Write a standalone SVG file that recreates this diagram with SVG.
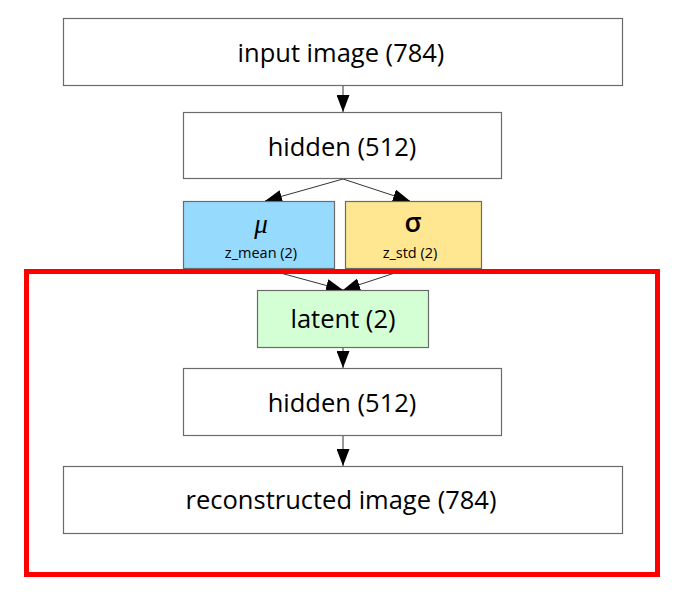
<svg xmlns="http://www.w3.org/2000/svg" width="687" height="600" viewBox="0 0 687 600">
<defs>
<style>
.box{stroke:#6b6b6b;stroke-width:1.2}
.t{font-family:"Open Sans","Liberation Sans",sans-serif;font-size:25.5px;fill:#000;text-anchor:middle}
.s{font-family:"Open Sans","Liberation Sans",sans-serif;font-size:14.5px;fill:#000;text-anchor:middle}
.c{stroke:#333;stroke-width:1;fill:none;marker-end:url(#ah)}
</style>
<marker id="ah" viewBox="0 0 17 13" refX="17" refY="6.5" markerWidth="17" markerHeight="13" markerUnits="userSpaceOnUse" orient="auto">
<path d="M0,0 L17,6.5 L0,13 Z" fill="#000"/>
</marker>
</defs>
<rect width="687" height="600" fill="#fff"/>
<g id="connectors">
<line class="c" x1="343" y1="85" x2="343" y2="112"/>
<line class="c" x1="343" y1="179" x2="265" y2="201"/>
<line class="c" x1="343" y1="179" x2="410" y2="201"/>
<line class="c" x1="262" y1="268" x2="343" y2="290"/>
<line class="c" x1="410" y1="268" x2="343" y2="290"/>
<line class="c" x1="343" y1="347" x2="343" y2="368"/>
<line class="c" x1="343" y1="435" x2="343" y2="466"/>
</g>
<g id="input">
<rect class="box" x="63.5" y="18.5" width="559" height="67" fill="#fff"/>
<text class="t" x="341" y="62">input image (784)</text>
</g>
<g id="hidden1">
<rect class="box" x="183.5" y="112.5" width="318" height="66" fill="#fff"/>
<text class="t" x="342" y="156">hidden (512)</text>
</g>
<g id="mu">
<rect class="box" x="183.5" y="201.5" width="151" height="67" fill="#96dafe"/>
<text x="261" y="233" font-family="'Liberation Serif',serif" font-style="italic" font-size="27" text-anchor="middle">μ</text>
<text class="s" x="261" y="258">z_mean (2)</text>
</g>
<g id="sigma">
<rect class="box" x="345.5" y="201.5" width="136" height="67" fill="#ffe791"/>
<text x="413" y="232" font-family="'Open Sans',sans-serif" font-size="27" font-weight="600" text-anchor="middle">σ</text>
<text class="s" x="410" y="258">z_std (2)</text>
</g>
<g id="latent">
<rect class="box" x="257.5" y="290.5" width="171" height="57" fill="#d4ffd4"/>
<text class="t" x="343" y="328">latent (2)</text>
</g>
<g id="hidden2">
<rect class="box" x="183.5" y="368.5" width="318" height="67" fill="#fff"/>
<text class="t" x="342" y="412">hidden (512)</text>
</g>
<g id="recon">
<rect class="box" x="63.5" y="466.5" width="559" height="67" fill="#fff"/>
<text class="t" x="341" y="509">reconstructed image (784)</text>
</g>
<g id="decoder-frame">
<rect x="26.5" y="271.5" width="631" height="303" fill="none" stroke="#ff0000" stroke-width="5"/>
</g>
</svg>
